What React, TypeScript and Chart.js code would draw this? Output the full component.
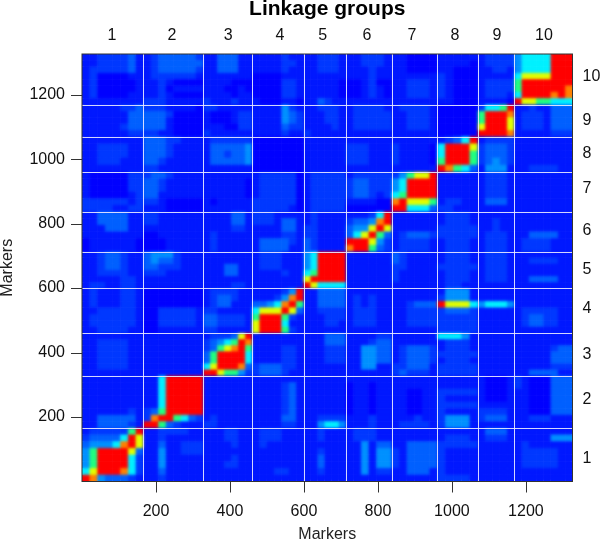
import React, { useEffect, useRef } from "react";
import { Chart, registerables } from "chart.js";

Chart.register(...registerables);

const FONT = "'Liberation Sans', Arial, sans-serif";
const AXIS_MAX = 1326;
const groupNames = ["1", "2", "3", "4", "5", "6", "7", "8", "9", "10"];
const groupEdges = [0, 166, 328, 460, 599, 713, 837, 960, 1070, 1169, 1326];
const groupCells = [8, 8, 7, 7, 6, 6, 6, 5, 5, 8];
const axisTicks = [200, 400, 600, 800, 1000, 1200];
const topLabelAt = [81, 243, 395, 535, 651, 770, 892, 1008, 1122, 1249];
const rightLabelAt = [70, 253, 395, 535, 656, 777, 907, 1016, 1118, 1255];
const levelColors = ["#0000ff", "#0018ff", "#0038ff", "#0060ff", "#0090ff", "#00f0ff", "#20ff80", "#e0ff00", "#ff8000", "#ff0000"];

// Each row: one level per cell, left to right, groups separated by spaces. First row is the top of the plot.
const levelRows = [
  // linkage group 10
  "11222231 12333332 1133311 1111211 112221 112221 110000 11111 12222 45555999",
  "11222231 12333333 1133311 1111221 112221 112221 110000 11110 12222 45555999",
  "12222231 12333332 1133311 1111211 112221 111211 110000 11000 11221 45555999",
  "12000011 12222221 1111111 0000111 111111 111211 111111 21000 11111 57777999",
  "12000001 11210000 1111000 0000221 111110 001200 112221 21000 12222 69999999",
  "12000001 11201111 1110010 0000221 111110 001210 112221 21000 12222 69999998",
  "12000011 11210000 1111011 0000221 111110 001210 112221 21000 12221 59999898",
  "11111111 22211111 2111211 1000110 113211 111111 111111 11000 11110 97766555",
  // linkage group 9
  "11111223 22211110 2211111 1111421 112221 122221 122221 00000 25569 11211333",
  "11111133 33320000 1000122 1111432 111221 122222 112221 00000 69998 12221333",
  "11111133 33310000 1000122 1111432 111221 122222 112221 00000 69997 12221333",
  "11111233 33310000 1110022 1111322 111121 122222 112221 00000 79997 12221333",
  "11111122 22110000 2111111 1111211 211111 111111 111111 00000 99998 11111222",
  // linkage group 8
  "11111111 33322111 1222222 0000000 111111 111111 111111 12359 12222 11111111",
  "11222211 33321111 1333334 0000000 111111 222111 211110 59997 23332 11111111",
  "11222211 33321111 1332334 0000000 111111 222111 211110 59996 23332 11111111",
  "11222111 33211111 1333334 0000000 111111 222111 211110 69996 23432 11111111",
  "11111111 22111111 1111111 0000000 111111 111111 111111 98653 14441 11222211",
  // linkage group 7
  "10000022 23321111 1111111 1222220 122222 122222 246779 11111 12221 11111111",
  "10000022 33211111 1111110 1222220 122222 233222 459999 11111 12221 11111111",
  "10000022 33211111 1111110 1222220 122222 233222 459999 11111 12221 11111111",
  "10000012 33111111 1111110 1222220 122222 233212 569999 11111 12221 11111111",
  "22222212 22100000 1011111 2222220 122222 111100 897776 12211 13331 11111111",
  "22221122 11100000 1111111 2222210 122222 000000 995553 22111 11111 11111111",
  // linkage group 6
  "11333311 22111111 1111331 2221111 121111 111259 111111 12221 11111 11111111",
  "11333311 22111111 1111331 2221331 121111 233489 111111 12221 11211 11111111",
  "11133311 11111111 1111221 1111331 221111 344797 111111 22222 11211 11111111",
  "11111111 00111111 1211111 1111221 221111 357963 123332 22222 12221 11333311",
  "01111110 00011111 1211111 1333321 321111 999742 122221 12221 12221 12222111",
  "01111110 00011111 1211111 1333311 321111 899632 122221 12221 12221 12222111",
  // linkage group 5
  "11233211 34442111 1111111 1222111 459999 111111 321111 12221 12221 11111111",
  "11233211 34332111 1111111 1222111 459999 111111 321111 12221 12221 11222211",
  "11233211 33222111 1113311 1222111 459999 111111 221111 22222 12221 11111111",
  "11222211 22211111 1113311 1111211 569999 111111 211111 12221 12221 11111111",
  "11111221 11111111 1111111 1111111 799999 111111 211111 12221 12221 11333311",
  "12211221 11111111 1111221 1111111 975555 111111 111111 12211 11111 11111111",
  // linkage group 4
  "12111221 00000000 1222211 1111249 113333 111111 111111 14441 11111 11111111",
  "12111221 00000000 1233211 1112489 113333 121211 111111 24441 11111 11111111",
  "12111221 00000000 1233111 3345896 113333 121211 112333 97775 45554 11111111",
  "11222221 00222221 2211111 5777973 112222 122211 112222 23332 11111 12222211",
  "12222221 00222221 3322221 6999621 111222 122211 112222 22222 11111 12332211",
  "12222221 00222221 3322221 7999511 111221 122211 112222 22222 11111 12332211",
  "11222211 00111111 2211111 7999621 111111 111111 111111 22222 11111 11111111",
  // linkage group 3
  "11111111 11111111 1222379 1111111 111333 111122 111111 55541 11111 11111111",
  "11222211 11111111 2345698 1111111 111333 111233 111111 12221 11111 11111111",
  "11222211 11111111 2367896 1111221 111222 114433 123332 12221 11111 11111233",
  "11222211 11111111 3699995 1111221 111222 114433 123332 22222 11111 11111333",
  "11222211 11111111 3699995 1111221 111222 114433 123332 12221 11111 11111333",
  "11222211 11111111 5799983 2333221 111111 114411 223331 22222 11111 11111222",
  "11111111 11111111 9976642 2333211 111111 111111 232221 22222 11111 11333311",
  // linkage group 2
  "11111111 11599999 1111111 1111111 111111 111111 111111 11111 10001 21000333",
  "11111111 11599999 1111111 1111231 111111 011011 111111 11111 10001 21000333",
  "11111111 11599999 1111111 1111231 111111 011011 110011 22222 10001 11000333",
  "11111111 11599999 1111111 1111231 111111 011011 110011 21111 10001 11000333",
  "11111111 11599999 1111111 1111231 111111 011011 110011 22222 11111 11000333",
  "11111121 23699999 1111111 1111231 111111 011011 110011 21111 22221 11000333",
  "11333331 28996532 1211111 1111331 112222 111211 111211 24441 23331 11222111",
  "11333321 99632111 2211111 1111221 114554 111211 122221 24441 11111 11111111",
  // linkage group 1
  "12222269 11222211 1112211 1222111 112111 122211 111111 11111 13331 11111111",
  "23333597 11211111 1112211 1222111 112111 122211 111111 12221 12221 11111444",
  "34445897 11311222 1111211 1211111 111111 114133 113333 22222 11111 12111111",
  "46999973 11411222 1111111 1111111 112111 114144 213333 21111 11111 12222211",
  "46999952 11411111 1111211 1111111 113111 114144 213333 21111 11111 12222211",
  "46999952 11411111 1112211 1111111 113111 114144 213333 21111 11111 12222211",
  "57999852 11311111 1111111 1112211 112111 114122 113331 21111 11111 11111111",
  "98433321 11211111 1111111 1111111 111111 111111 111111 22221 11111 11111111",
];

function cellEdges(): number[] {
  const out: number[] = [0];
  groupCells.forEach((n, g) => {
    const a = groupEdges[g];
    const b = groupEdges[g + 1];
    for (let i = 1; i <= n; i++) out.push(a + ((b - a) * i) / n);
  });
  return out;
}

function fixedTicks(values: number[]) {
  return (scale: any) => {
    scale.ticks = values.map((value) => ({ value }));
  };
}

const heatPlugin = {
  id: "heatCells",
  beforeDatasetsDraw(chart: any) {
    const { ctx, chartArea: a, scales } = chart;
    const edges = cellEdges();
    const off = document.createElement("canvas");
    off.width = chart.width;
    off.height = chart.height;
    const o = off.getContext("2d") as CanvasRenderingContext2D;
    for (const p of chart.data.datasets[0].data as any[]) {
      const x0 = scales.x.getPixelForValue(edges[p.col]);
      const x1 = scales.x.getPixelForValue(edges[p.col + 1]);
      const y0 = scales.y.getPixelForValue(edges[p.row + 1]);
      const y1 = scales.y.getPixelForValue(edges[p.row]);
      o.fillStyle = levelColors[p.v];
      o.fillRect(x0, y1, x1 - x0, y0 - y1);
    }
    ctx.save();
    ctx.beginPath();
    ctx.rect(a.left, a.top, a.right - a.left, a.bottom - a.top);
    ctx.clip();
    ctx.drawImage(off, 0, 0);
    ctx.filter = "blur(1.6px)";
    ctx.drawImage(off, 0, 0);
    ctx.filter = "none";
    ctx.restore();
  },
  afterDatasetsDraw(chart: any) {
    const { ctx, chartArea: a, scales } = chart;
    ctx.save();
    ctx.strokeStyle = "rgba(235,235,255,0.9)";
    ctx.lineWidth = 1;
    for (const m of groupEdges.slice(1, -1)) {
      const x = Math.round(scales.x.getPixelForValue(m)) + 0.5;
      const y = Math.round(scales.y.getPixelForValue(m)) + 0.5;
      ctx.beginPath();
      ctx.moveTo(x, a.top);
      ctx.lineTo(x, a.bottom);
      ctx.moveTo(a.left, y);
      ctx.lineTo(a.right, y);
      ctx.stroke();
    }
    ctx.strokeStyle = "#333333";
    ctx.strokeRect(a.left, a.top, a.right - a.left, a.bottom - a.top);
    for (const t of axisTicks) {
      const x = Math.round(scales.x.getPixelForValue(t)) + 0.5;
      const y = Math.round(scales.y.getPixelForValue(t)) + 0.5;
      ctx.beginPath();
      ctx.moveTo(x, a.bottom);
      ctx.lineTo(x, a.bottom + 11);
      ctx.moveTo(a.left, y);
      ctx.lineTo(a.left - 11, y);
      ctx.stroke();
    }
    ctx.restore();
  },
};

export default function App() {
  const ref = useRef<HTMLCanvasElement>(null);
  useEffect(() => {
    const edges = cellEdges();
    const flat = levelRows.map((r) => r.replace(/ /g, ""));
    const points: any[] = [];
    flat.forEach((r, i) => {
      const row = flat.length - 1 - i;
      for (let col = 0; col < r.length; col++) {
        points.push({
          x: (edges[col] + edges[col + 1]) / 2,
          y: (edges[row] + edges[row + 1]) / 2,
          col,
          row,
          v: Number(r[col]),
        });
      }
    });
    const tick = { color: "#111111", font: { family: FONT, size: 16 }, autoSkip: false, maxRotation: 0 };
    const plain = (v: any) => String(v);
    const chart = new Chart(ref.current as HTMLCanvasElement, {
      type: "scatter",
      data: { datasets: [{ label: "Recombination", data: points, pointRadius: 0, pointHoverRadius: 0 }] },
      plugins: [heatPlugin],
      options: {
        responsive: false,
        animation: false,
        events: [],
        layout: { padding: 0 },
        plugins: { legend: { display: false }, tooltip: { enabled: false }, title: { display: false } },
        scales: {
          x: {
            type: "linear",
            position: "bottom",
            min: 0,
            max: AXIS_MAX,
            afterBuildTicks: fixedTicks(axisTicks),
            afterFit: (s: any) => { s.height = 57.5; },
            grid: { drawOnChartArea: false, tickLength: 11, tickColor: "rgba(0,0,0,0)" },
            border: { display: false },
            ticks: { ...tick, padding: 9, callback: plain },
            title: { display: true, text: "Markers", color: "#222222", font: { family: FONT, size: 16, lineHeight: 1 }, padding: { top: 0, bottom: -4 } },
          },
          x2: {
            type: "linear",
            position: "top",
            min: 0,
            max: AXIS_MAX,
            afterBuildTicks: fixedTicks(topLabelAt),
            afterFit: (s: any) => { s.height = 54; },
            grid: { display: false, drawTicks: false },
            border: { display: false },
            ticks: { ...tick, padding: 9, callback: (_v: any, i: number) => groupNames[i] },
            title: { display: true, text: "Linkage groups", color: "#000000", font: { family: FONT, size: 21, weight: "bold", lineHeight: 1 }, padding: { top: -1, bottom: 0 } },
          },
          y: {
            type: "linear",
            position: "left",
            min: 0,
            max: AXIS_MAX,
            afterBuildTicks: fixedTicks(axisTicks),
            afterFit: (s: any) => { s.width = 82; },
            grid: { drawOnChartArea: false, tickLength: 11, tickColor: "rgba(0,0,0,0)" },
            border: { display: false },
            ticks: { ...tick, padding: 6, callback: plain },
            title: { display: true, text: "Markers", color: "#222222", font: { family: FONT, size: 16, lineHeight: 1 }, padding: 0 },
          },
          y2: {
            type: "linear",
            position: "right",
            min: 0,
            max: AXIS_MAX,
            afterBuildTicks: fixedTicks(rightLabelAt),
            afterFit: (s: any) => { s.width = 27.5; },
            grid: { display: false, drawTicks: false },
            border: { display: false },
            ticks: { ...tick, padding: 10, crossAlign: "near", callback: (_v: any, i: number) => groupNames[i] },
          },
        },
      } as any,
    });
    return () => chart.destroy();
  }, []);
  return (
    <div style={{ position: "absolute", left: 0, top: 0, width: 600, height: 539, background: "#ffffff" }}>
      <canvas ref={ref} width={600} height={539} style={{ display: "block" }} />
    </div>
  );
}
